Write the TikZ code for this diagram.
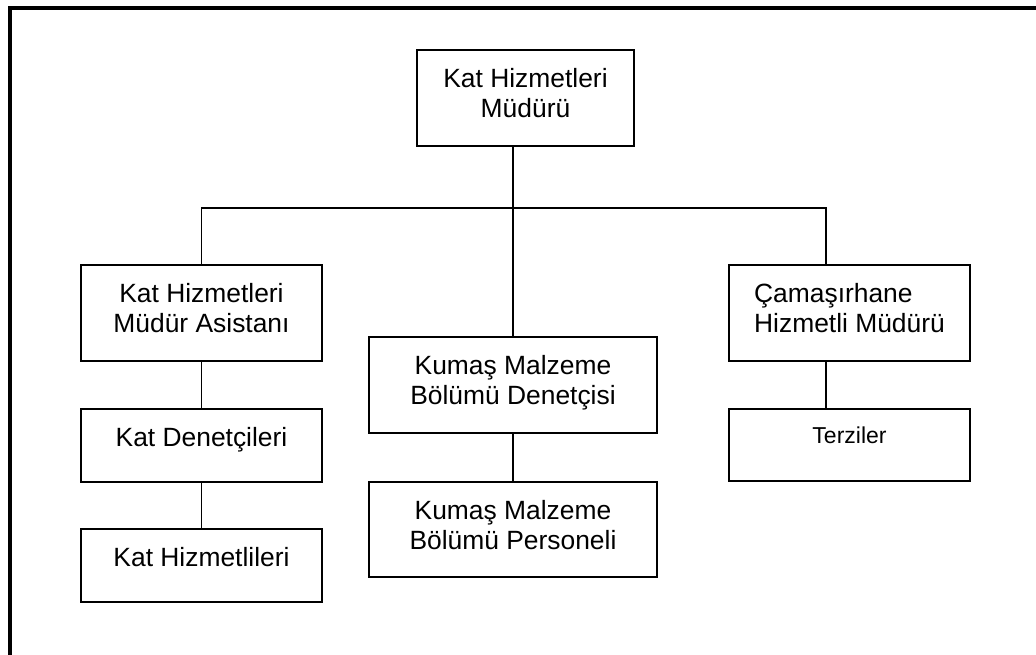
\documentclass[tikz,border=0pt]{standalone}
\usepackage{fontspec}
\setmainfont{Liberation Sans}
\begin{document}
\begin{tikzpicture}[
                x=1pt, y=-1pt,
                every node/.style={draw, line width=1.8pt, inner sep=0pt, align=center,
                    font=\fontsize{26.4}{30}\selectfont},
                lift/.style={execute at end node={\rule[-#1]{0pt}{#1}}},
                wide/.style={minimum width=241pt},
                tall/.style={minimum height=96pt, lift=10pt},
                short/.style={minimum height=73pt, lift=17pt},
                link/.style={line width=1.2pt},
            ]
            \useasboundingbox (0,0) rectangle (1036,654);
            \clip (0,0) rectangle (1036,654);
            \draw[line width=4pt] (9.5,680) -- (9.5,8) -- (1060,8);

            \node[minimum width=217pt, tall] (mgr) at (525.5,98) {Kat Hizmetleri\\Müdürü};

            \node[wide, tall] (asst) at (201.5,313) {Kat Hizmetleri\\Müdür Asistanı};
            \node[wide, short] (insp) at (201.5,445.5) {Kat Denetçileri};
            \node[wide, short] (maids) at (201.5,565.5) {Kat Hizmetlileri};

            \node[minimum width=288pt, tall] (linsup) at (513,385) {Kumaş Malzeme\\Bölümü Denetçisi};
            \node[minimum width=288pt, tall, minimum height=95pt] (linstaff) at (513,529.5) {Kumaş Malzeme\\Bölümü Personeli};

            \node[wide, tall, align=left] (laundry) at (849.5,313) {Çamaşırhane\\Hizmetli Müdürü};
            \node[wide, minimum height=72pt, lift=20pt, font=\fontsize{23}{27}\selectfont] (tailors) at (849.5,445) {Terziler};

            \coordinate (bus) at (513,208);
            \coordinate (rbus) at (826,208);
            \draw[link] (bus |- mgr.south) -- (linsup.north);
            \draw[link] (asst.north) -- (asst.north |- bus) -- (rbus) -- (rbus |- laundry.north);
            \draw[link] (asst) -- (insp);
            \draw[link] (insp) -- (maids);
            \draw[link] (linsup) -- (linstaff);
            \draw[link] (rbus |- laundry.south) -- (rbus |- tailors.north);
            \end{tikzpicture}
\end{document}
